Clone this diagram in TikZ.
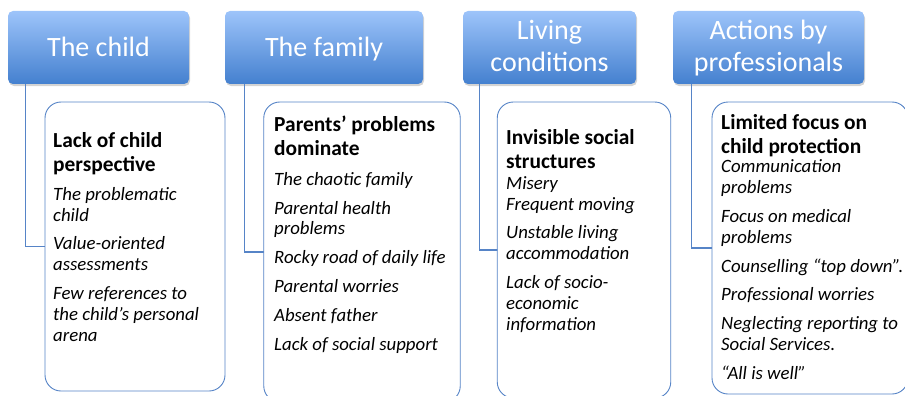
\documentclass[tikz,border=0pt]{standalone}
\usepackage{fontspec}
\setmainfont{Carlito}
\usetikzlibrary{shadows}

\definecolor{hdrtop}{RGB}{157,196,250}
\definecolor{hdrbot}{RGB}{68,128,207}
\definecolor{rim}{RGB}{86,132,199}

\tikzset{
  header/.style={rounded corners=5pt, top color=hdrtop, bottom color=hdrbot,
    drop shadow={shadow xshift=1pt, shadow yshift=-2pt, opacity=0.35}},
  hdrtext/.style={white, font=\fontsize{28}{31.7}\selectfont, align=center,
    anchor=base, inner sep=0pt},
  card/.style={draw=rim, line width=0.9pt, rounded corners=16pt, fill=white},
  cardhead/.style={font=\bfseries\fontsize{21.4}{24}\selectfont, align=left,
    anchor=base west, inner sep=0pt},
  carditems/.style={font=\itshape\fontsize{18.8}{20.8}\selectfont, align=left,
    anchor=base west, inner sep=0pt},
  conn/.style={draw=rim, line width=1.1pt},
}

\begin{document}
\begin{tikzpicture}[x=1pt,y=-1pt]
  \useasboundingbox (0,0) rectangle (905,396);

  % Headers
  \node[header, minimum width=181pt, minimum height=73pt] (hdr1) at (98.5,47.5) {};
  \node[header, minimum width=198pt, minimum height=73pt] (hdr2) at (324,47.5) {};
  \node[header, minimum width=173pt, minimum height=73pt] (hdr3) at (549.5,47.5) {};
  \node[header, minimum width=191pt, minimum height=73pt] (hdr4) at (768.5,47.5) {};

  % Connectors
  \draw[conn] ([xshift=18pt]hdr1.south west) |- (135,246.5) coordinate (c1);
  \draw[conn] ([xshift=20pt]hdr2.south west) |- (362,252) coordinate (c2);
  \draw[conn] ([xshift=17pt]hdr3.south west) |- (584,250) coordinate (c3);
  \draw[conn] ([xshift=19pt]hdr4.south west) |- (810,248) coordinate (c4);

  % Cards
  \node[card, minimum width=180pt, minimum height=289pt] (box1) at (c1) {};
  \node[card, minimum width=196.5pt, minimum height=300pt] (box2) at (c2) {};
  \node[card, minimum width=173.5pt, minimum height=296pt] (box3) at (c3) {};
  \node[card, minimum width=196pt, minimum height=292pt] (box4) at (c4) {};

  % Header texts (base = last line)
  \node[hdrtext] (t1) at (98.5,56.7) {The child};
  \node[hdrtext] (t2) at (324,56.7) {The family};
  \node[hdrtext] (t3) at (549.5,71.7) {Living\\conditions};
  \node[hdrtext] (t4) at (768.5,71.7) {Actions by\\professionals};

  % Card texts (base = last line)
  \node[cardhead] (h1) at (53,171) {Lack of child\\perspective};
  \node[carditems] (i1) at (53,341) {The problematic\\child\\[8pt]Value-oriented\\assessments\\[8pt]Few references to\\the child’s personal\\arena};

  \node[cardhead] (h2) at (274,155) {Parents’ problems\\dominate};
  \node[carditems] (i2) at (274,350) {The chaotic family\\[8pt]Parental health\\problems\\[8pt]Rocky road of daily life\\[8pt]Parental worries\\[8pt]Absent father\\[8pt]Lack of social support};

  \node[cardhead] (h3) at (506,168) {Invisible social\\structures};
  \node[carditems] (i3) at (506,330) {Misery\\Frequent moving\\[8pt]Unstable living\\accommodation\\[8pt]Lack of socio-\\economic\\information};

  \node[cardhead] (h4) at (721,153.3) {Limited focus on\\child protection};
  \node[carditems] (i4) at (721,379.3) {Communication\\problems\\[8pt]Focus on medical\\problems\\[8pt]Counselling “top down”.\\[8pt]Professional worries\\[8pt]Neglecting reporting to\\Social Services.\\[8pt]“All is well”};

\end{tikzpicture}
\end{document}
